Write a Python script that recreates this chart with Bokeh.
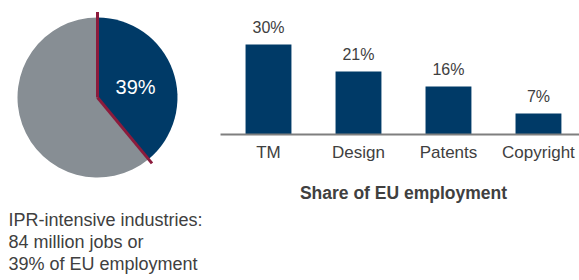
import math
from bokeh.plotting import figure
from bokeh.models import Range1d, ColumnDataSource
from bokeh.core.properties import value
from bokeh.embed import file_html
from bokeh.resources import INLINE

# ---- data ----
pie_names = ["IPR-intensive", "Other"]
pie_shares = [39, 61]
pie_label = "39%"
categories = ["TM", "Design", "Patents", "Copyright"]
values = [30, 21, 16, 7]
value_labels = ["30%", "21%", "16%", "7%"]
note_lines = ["IPR-intensive industries:", "84 million jobs or", "39% of EU employment"]
axis_title = "Share of EU employment"

FONT = "Liberation Sans"
NAVY = "#003A67"
GREY = "#878E94"
RED = "#8C1B3C"
TXT = "#404040"

W, H = 579, 280
p = figure(width=W, height=H, x_range=Range1d(0, W), y_range=Range1d(0, H),
           output_backend="svg", toolbar_location=None, min_border=0)
p.axis.visible = False
p.grid.visible = False
p.outline_line_color = None

# bar chart scales (share of EU employment, %)
p.extra_x_ranges = {"bars": Range1d(-2.978, 3.456)}
p.extra_y_ranges = {"bars": Range1d(-48.667, 44.667)}

# ---- pie ----
cx, cy, R = 97, 183, 80
total = sum(pie_shares)
span0 = 2 * math.pi * pie_shares[0] / total
starts = [math.pi / 2 - span0, math.pi / 2]
ends = [math.pi / 2, math.pi / 2 - span0 + 2 * math.pi]
src = ColumnDataSource(dict(start=starts, end=ends, color=[NAVY, GREY]))
p.wedge(x=cx, y=cy, radius=R, start_angle="start", end_angle="end",
        color="color", line_color=None, source=src)

L = 85.5
bounds = [math.pi / 2, math.pi / 2 - span0]
p.segment(x0=[cx, cx], y0=[cy, cy],
          x1=[cx + L * math.cos(a) for a in bounds],
          y1=[cy + L * math.sin(a) for a in bounds],
          line_color=RED, line_width=3)

mid = math.pi / 2 - span0 / 2
p.text(x=[cx + 0.5 * R * math.cos(mid) + 0.5], y=[cy + 0.5 * R * math.sin(mid) - 3],
       text=[pie_label], text_font=value(FONT), text_font_size="20px",
       text_color="white", text_align="center", text_baseline="middle")

p.text(x=[8, 8, 8], y=[60.8, 38.8, 16.8], text=note_lines, text_font=value(FONT),
       text_font_size="18px", text_color=TXT, text_align="left",
       text_baseline="middle")

# ---- bars ----
xs = list(range(len(categories)))
zeros = [0] * len(categories)
p.vbar(x=xs, top=values, bottom=0, width=0.51, color=NAVY, line_color=None,
       x_range_name="bars", y_range_name="bars")
p.text(x=xs, y=values, text=value_labels, y_offset=-17.5, text_font=value(FONT),
       text_font_size="16px", text_color=TXT, text_align="center",
       text_baseline="middle", x_range_name="bars", y_range_name="bars")

# baseline axis line
p.segment(x0=[xs[0] - 0.533], x1=[xs[-1] + 0.456], y0=[0], y1=[0],
          line_color="#7F7F7F", line_width=2.2,
          x_range_name="bars", y_range_name="bars")

# category labels
p.text(x=xs, y=zeros, text=categories, y_offset=17.5, text_font=value(FONT),
       text_font_size="17px", text_color=TXT, text_align="center",
       text_baseline="middle", x_range_name="bars", y_range_name="bars")

# axis title
p.text(x=[(xs[0] + xs[-1]) / 2], y=[0], text=[axis_title], y_offset=58,
       text_font=value(FONT), text_font_size="17.5px", text_font_style="bold",
       text_color=TXT, text_align="center", text_baseline="middle",
       x_range_name="bars", y_range_name="bars")

open("out.html", "w").write(file_html(p, INLINE))
